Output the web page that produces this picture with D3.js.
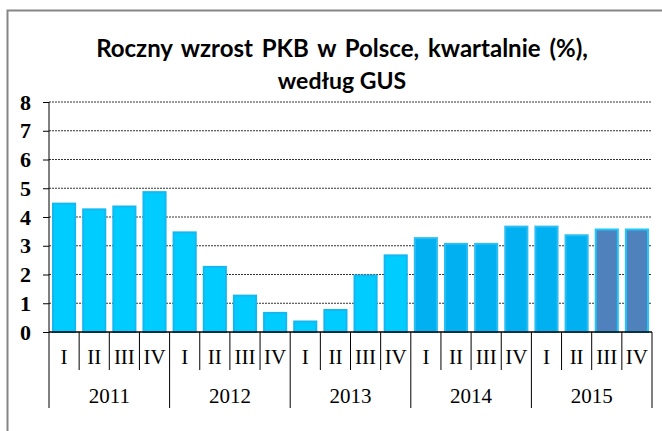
<!DOCTYPE html>
<html>
<head>
<meta charset="utf-8">
<script src="https://cdn.jsdelivr.net/npm/d3@7"></script>
<style>
body { margin: 0; background: #fff; }
</style>
</head>
<body>
<div id="chart"></div>
<script>
const years = ["2011", "2012", "2013", "2014", "2015"];
const quarters = ["I", "II", "III", "IV"];
const values = [4.5, 4.3, 4.4, 4.9, 3.5, 2.3, 1.3, 0.7, 0.4, 0.8, 2.0, 2.7, 3.3, 3.1, 3.1, 3.7, 3.7, 3.4, 3.6, 3.6];
const yTicks = [0, 1, 2, 3, 4, 5, 6, 7, 8];
const titleLines = ["Roczny wzrost PKB w Polsce, kwartalnie (%),", "według GUS"];

const W = 662, H = 431;
const margin = {top: 102, right: 10, bottom: 99, left: 49};
const width = 652 - margin.left, height = 332 - margin.top;

const svg = d3.select("#chart").append("svg")
    .attr("width", W).attr("height", H);

// outer frame
svg.append("rect").attr("x", 7.5).attr("y", 10.5).attr("width", 680).attr("height", 440)
    .attr("fill", "none").attr("stroke", "#868686").attr("stroke-width", 2);

svg.selectAll("text.title").data(titleLines).enter().append("text")
    .attr("class", "title")
    .attr("x", 342).attr("y", (d, i) => 57 + i * 32)
    .attr("text-anchor", "middle")
    .style("font-family", "Lato, 'Open Sans', sans-serif")
    .style("font-weight", "bold")
    .style("font-size", (d, i) => i === 0 ? "24px" : "23px")
    .style("word-spacing", (d, i) => i === 0 ? "3px" : "0px")
    .text(d => d);

const g = svg.append("g").attr("transform", "translate(" + margin.left + "," + margin.top + ")");

const data = values.map((v, i) => ({year: years[Math.floor(i / 4)], q: quarters[i % 4], v: v, i: i}));

const x = d3.scaleBand().domain(d3.range(values.length)).range([0, width]).paddingInner(0.2).paddingOuter(0.1);
const y = d3.scaleLinear().domain([0, 8]).range([height, 0]);
const step = x.step();

// grid lines
g.selectAll("line.grid").data(yTicks.slice(1)).enter().append("line")
    .attr("x1", 0).attr("x2", width)
    .attr("y1", d => y(d)).attr("y2", d => y(d))
    .attr("stroke", "#333").attr("stroke-width", 1).attr("stroke-dasharray", "2,1");

function fillOf(d) {
    if (d.year === "2015" && (d.q === "III" || d.q === "IV")) return "#4f81bd";
    if (d.year === "2014" || d.year === "2015") return "#00b0f0";
    return "#00ccff";
}
function strokeOf(d) {
    if (d.year === "2015" && (d.q === "III" || d.q === "IV")) return "#1fc8fb";
    if (d.year === "2014" || d.year === "2015") return "#2cbdf2";
    return "#14b8f0";
}

g.selectAll("rect.bar").data(data).enter().append("rect")
    .attr("class", "bar")
    .attr("x", d => x(d.i) + 1)
    .attr("width", x.bandwidth() - 2)
    .attr("y", d => y(d.v) + 1)
    .attr("height", d => y(0) - y(d.v) - 1)
    .attr("fill", fillOf)
    .attr("stroke", strokeOf).attr("stroke-width", 2);

// y axis
const yAxis = g.append("g").call(d3.axisLeft(y).tickValues(yTicks).tickSize(6).tickPadding(12).tickFormat(d3.format("d")));
yAxis.select(".domain").attr("stroke", "#000").attr("d", "M0," + y(8) + "V" + y(0));
yAxis.selectAll("text")
    .style("font-family", "'Liberation Serif', 'Times New Roman', serif")
    .style("font-weight", "bold").style("font-size", "22px").attr("fill", "#000");

// x axis baseline
g.append("line").attr("x1", 0).attr("x2", width).attr("y1", height).attr("y2", height)
    .attr("stroke", "#000").attr("stroke-width", 1.5);

// category separators
const seps = d3.range(values.length + 1);
g.selectAll("line.sep").data(seps).enter().append("line")
    .attr("x1", d => d * step).attr("x2", d => d * step)
    .attr("y1", height).attr("y2", d => d % 4 === 0 ? height + 76 : height + 38)
    .attr("stroke", "#000").attr("stroke-width", 1);

g.selectAll("text.q").data(data).enter().append("text")
    .attr("x", d => x(d.i) + x.bandwidth() / 2)
    .attr("y", height + 32)
    .attr("text-anchor", "middle")
    .style("font-family", "'Liberation Serif', 'Times New Roman', serif")
    .style("font-size", "21px")
    .text(d => d.q);

g.selectAll("text.yr").data(years).enter().append("text")
    .attr("x", (d, i) => (i * 4 + 2) * step)
    .attr("y", height + 71)
    .attr("text-anchor", "middle")
    .style("font-family", "'Liberation Serif', 'Times New Roman', serif")
    .style("font-size", "21px")
    .text(d => d);
</script>
</body>
</html>
